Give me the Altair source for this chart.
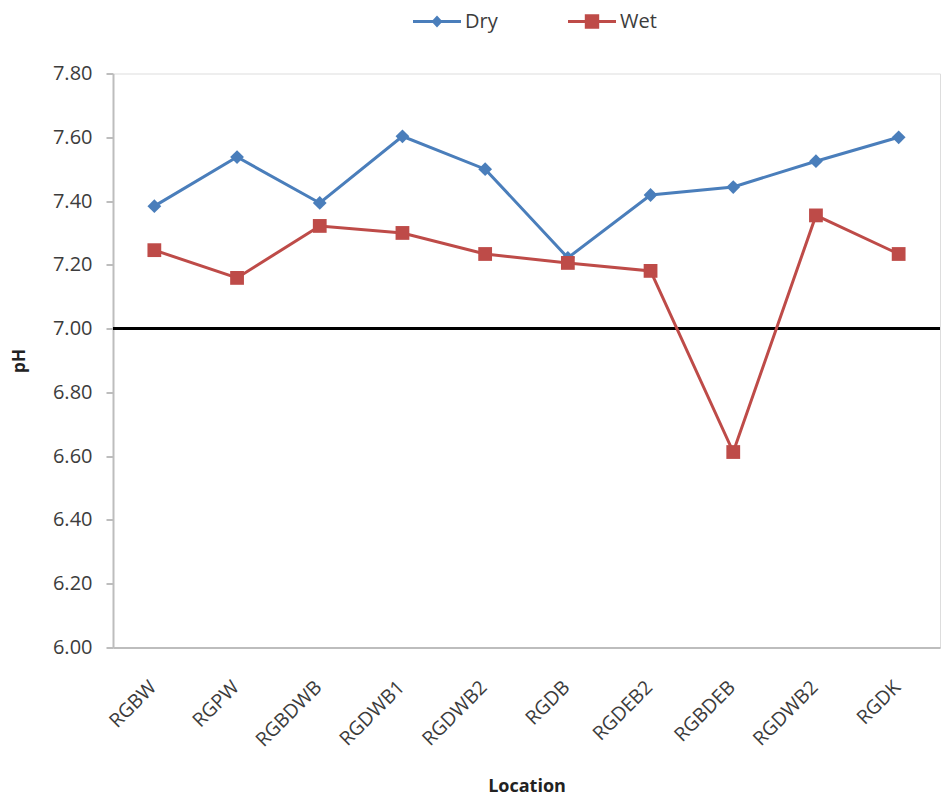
import altair as alt
import pandas as pd

locations = ["RGBW", "RGPW", "RGBDWB", "RGDWB1", "RGDWB2", "RGDB", "RGDEB2", "RGBDEB", "RGDWB2", "RGDK"]
dry = [7.384, 7.538, 7.394, 7.603, 7.500, 7.222, 7.419, 7.444, 7.525, 7.600]
wet = [7.246, 7.159, 7.322, 7.300, 7.234, 7.206, 7.181, 6.613, 7.355, 7.234]
series = ["Dry", "Wet"]
colors = ["#4A7EBB", "#BE4B48"]
markers = ["diamond", "square"]
y_ticks = [6.0, 6.2, 6.4, 6.6, 6.8, 7.0, 7.2, 7.4, 7.6, 7.8]
neutral_ph = 7.0

rows = []
for i, (loc, d, w) in enumerate(zip(locations, dry, wet)):
    rows.append({"pos": i, "Location": loc, "Series": "Dry", "pH": d})
    rows.append({"pos": i, "Location": loc, "Series": "Wet", "pH": w})
df = pd.DataFrame(rows)

label_expr = "[" + ",".join(f"'{l}'" for l in locations) + "][datum.value]"

FONT = "Open Sans"
LABEL_COLOR = "#3c3c3c"
AXIS_GRAY = "#BDBDBD"

# legend glyphs: a short line with the marker on it
dry_path = "M-1,-0.06L1,-0.06L1,0.06L-1,0.06Z M0,-0.25L0.23,0L0,0.25L-0.23,0Z"
wet_path = "M-1,-0.06L1,-0.06L1,0.06L-1,0.06Z M-0.3,-0.3L0.3,-0.3L0.3,0.3L-0.3,0.3Z"

x_enc = alt.X(
    "pos:O",
    title="Location",
    axis=alt.Axis(
        labelExpr=label_expr,
        labelAngle=-45,
        labelAlign="right",
        labelBaseline="top",
        ticks=False,
        labelPadding=30,
        labelOffset=-8,
        labelFont=FONT,
        labelFontSize=19.5,
        labelColor=LABEL_COLOR,
        domainColor=AXIS_GRAY,
        domainWidth=2,
        titleFont=FONT,
        titleFontSize=18,
        titleFontWeight="bold",
        titleColor="#222222",
        titlePadding=28,
        grid=False,
    ),
)
y_enc = alt.Y(
    "pH:Q",
    title="pH",
    scale=alt.Scale(domain=[6.0, 7.8], nice=False, zero=False),
    axis=alt.Axis(
        values=y_ticks,
        format=".2f",
        labelFont=FONT,
        labelFontSize=20,
        labelColor=LABEL_COLOR,
        labelPadding=14,
        tickSize=7,
        tickColor=AXIS_GRAY,
        tickWidth=2,
        domainColor=AXIS_GRAY,
        domainWidth=2,
        titleFont=FONT,
        titleFontSize=17,
        titleFontWeight="bold",
        titleColor="#222222",
        titlePadding=24,
        grid=False,
    ),
)

legend = alt.Legend(
    title=None,
    orient="none",
    legendX=300,
    legendY=-76,
    direction="horizontal",
    labelFont=FONT,
    labelFontSize=20,
    labelColor=LABEL_COLOR,
    symbolSize=2304,
    symbolStrokeWidth=0,
    labelOffset=4,
    columnPadding=70,
)

color_enc = alt.Color("Series:N", scale=alt.Scale(domain=series, range=colors), legend=legend)
legend_shape = alt.Shape(
    "Series:N", scale=alt.Scale(domain=series, range=[dry_path, wet_path]), legend=legend
)

base = alt.Chart(df)

lines = base.mark_line(strokeWidth=3).encode(x=x_enc, y=y_enc, color=color_enc, detail="Series:N")

point_layers = []
for s, m in zip(series, markers):
    point_layers.append(
        base.transform_filter(alt.datum.Series == s)
        .mark_point(filled=True, opacity=1, size=190, shape=m)
        .encode(x=x_enc, y=y_enc, color=color_enc)
    )

# carries only the legend (no data drawn)
legend_layer = (
    base.transform_filter("false")
    .mark_point(filled=True, opacity=1)
    .encode(x=x_enc, y=y_enc, color=color_enc, shape=legend_shape)
)

rule = alt.Chart(pd.DataFrame({"v": [neutral_ph]})).mark_rule(color="black", strokeWidth=3).encode(y="v:Q")

chart = (
    alt.layer(rule, lines, *point_layers, legend_layer)
    .properties(
        width=827,
        height=574,
        autosize=alt.AutoSizeParams(type="none"),
        padding={"left": 113, "top": 73.5, "right": 11, "bottom": 150.5},
    )
    .configure_view(stroke=None)
    .configure(background="white")
)

chart.save("out.html", embed_options={"renderer": "svg", "actions": False})
